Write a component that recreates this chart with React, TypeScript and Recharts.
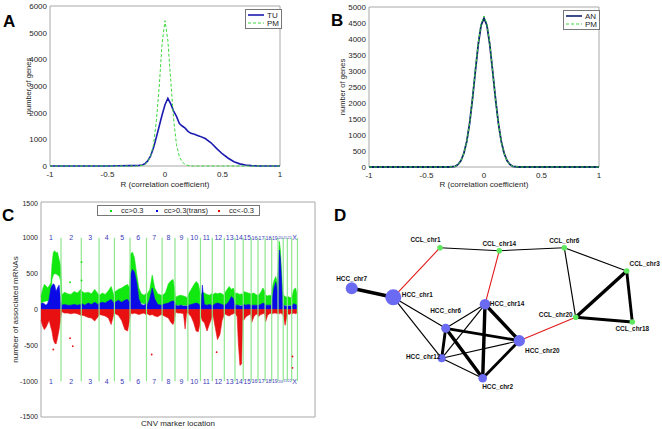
import React from 'react';
import {
  LineChart, Line, XAxis, YAxis, Legend, ReferenceArea, ReferenceLine,
  ComposedChart, Area, Scatter, ScatterChart,
} from 'recharts';

const FONT = '"Liberation Sans", Arial, Helvetica, sans-serif';
const INK = '#262626';
const FRAME = '#a8a8a8';

// ---- A / B: distribution of correlation coefficients
const rGrid = [-1, -0.5, -0.4, -0.3, -0.25, -0.225, -0.2, -0.175, -0.15, -0.125, -0.1, -0.075, -0.05, -0.025, 0,
  0.025, 0.05, 0.075, 0.1, 0.125, 0.15, 0.175, 0.2, 0.225, 0.25, 0.3, 0.35, 0.4, 0.45, 0.5, 0.55, 0.6, 0.65, 0.7,
  0.75, 0.8, 0.85, 0.9, 1];
const tuA = [0, 0, 10, 15, 20, 25, 40, 80, 190, 380, 680, 1080, 1500, 1920, 2300,
  2540, 2330, 2060, 1860, 1590, 1500, 1420, 1300, 1225, 1200, 1120, 1030, 870, 650, 450, 290, 160, 80, 40,
  15, 5, 0, 0, 0];
const pmA = [0, 0, 0, 0, 0, 5, 20, 60, 160, 380, 800, 1700, 3000, 4600, 5450,
  4700, 3200, 1750, 800, 350, 150, 60, 20, 5, 0, 0, 0, 0, 0, 0, 0, 0, 0, 0,
  0, 0, 0, 0, 0];
const anB = [0, 0, 0, 0, 20, 80, 200, 430, 800, 1370, 2130, 3000, 3830, 4430, 4650,
  4430, 3830, 3000, 2130, 1370, 800, 430, 200, 80, 20, 0, 0, 0, 0, 0, 0, 0, 0, 0,
  0, 0, 0, 0, 0];
const pmB = [0, 0, 0, 0, 15, 70, 190, 420, 790, 1360, 2140, 3040, 3880, 4490, 4720,
  4480, 3860, 3010, 2120, 1350, 790, 420, 190, 75, 20, 0, 0, 0, 0, 0, 0, 0, 0, 0,
  0, 0, 0, 0, 0];
const rTicks = [-1, -0.5, 0, 0.5, 1];
const yTicksA = [0, 1000, 2000, 3000, 4000, 5000, 6000];
const yTicksB = [0, 500, 1000, 1500, 2000, 2500, 3000, 3500, 4000, 4500, 5000];

// ---- C: associated mRNAs per CNV marker
const chrNames = ['1', '2', '3', '4', '5', '6', '7', '8', '9', '10', '11', '12', '13', '14', '15', '16', '17', '18', '19', '20', '21', '22', 'X'];
const chrEnds = [73, 147, 212, 268, 325, 385, 442, 489, 536, 582, 625, 669, 708, 738, 767, 792, 818, 842, 865, 884, 899, 915, 936];
const markerPos = [
  0, 6, 12, 18, 24, 30, 36, 40, 45, 50, 55, 60, 66, 72, // 1
  76, 85, 97, 109, 121, 133, 145, // 2
  150, 160, 172, 184, 196, 208, // 3
  214, 224, 234, 246, 256, 266, // 4
  271, 282, 294, 306, 316, 323, // 5
  328, 334, 341, 349, 357, 366, 376, 383, // 6
  388, 397, 406, 415, 426, 439, // 7
  445, 455, 465, 474, 482, 487, // 8
  491, 500, 510, 520, 526, 531, 534, // 9
  539, 548, 557, 566, 574, 580, // 10
  585, 589, 596, 606, 615, 623, // 11
  628, 636, 644, 653, 661, 667, // 12
  671, 679, 687, 695, 702, 706, // 13
  710, 716, 720, 726, 732, 736, // 14
  740, 748, 757, 765, // 15
  769, 777, 784, 790, // 16
  794, 802, 810, 816, // 17
  820, 827, 834, 840, // 18
  844, 850, 857, 863, // 19
  867, 870, 874, 878, 882, // 20
  886, 891, 897, // 21
  901, 907, 913, // 22
  917, 923, 929, 934, // X
];
const cisHigh = [
  180, 280, 350, 330, 300, 330, 370, 620, 800, 820, 790, 800, 700, 600,
  200, 240, 220, 210, 250, 230, 280,
  250, 230, 240, 220, 280, 220,
  200, 230, 210, 260, 320, 200,
  250, 280, 300, 330, 350, 300,
  780, 800, 720, 500, 300, 220, 200, 220,
  220, 280, 480, 300, 220, 200,
  200, 240, 360, 400, 420, 300,
  170, 190, 200, 190, 180, 170, 160,
  220, 280, 340, 390, 360, 250,
  220, 240, 230, 210, 200, 220,
  210, 230, 220, 230, 220, 200,
  230, 280, 320, 280, 300, 250,
  220, 230, 220, 210, 220, 200,
  250, 240, 230, 220,
  220, 230, 210, 200,
  200, 240, 300, 260,
  200, 190, 200, 190,
  300, 400, 460, 350,
  700, 950, 820, 500, 250,
  200, 180, 170,
  180, 170, 160,
  200, 280, 300, 220,
];
const cisLow = [
  90, 100, 110, 120, 120, 140, 200, 420, 480, 500, 500, 480, 470, 400,
  60, 60, 60, 60, 60, 60, 60,
  60, 60, 60, 60, 60, 60,
  60, 60, 60, 60, 60, 60,
  60, 60, 60, 60, 60, 60,
  250, 300, 350, 250, 120, 90, 80, 80,
  60, 60, 60, 60, 60, 60,
  60, 60, 60, 60, 60, 60,
  60, 60, 60, 60, 60, 60, 60,
  60, 60, 60, 60, 60, 60,
  60, 60, 60, 60, 60, 60,
  60, 60, 60, 60, 60, 60,
  60, 60, 60, 60, 60, 60,
  60, 60, 60, 60, 60, 60,
  60, 60, 60, 60,
  60, 60, 60, 60,
  60, 60, 60, 60,
  60, 60, 60, 60,
  60, 80, 80, 60,
  100, 200, 200, 100, 60,
  60, 60, 60,
  60, 60, 60,
  60, 60, 60, 60,
];
const transHigh = [
  80, 90, 80, 60, 80, 150, 300, 330, 360, 340, 250, 300, 340, 120,
  60, 70, 60, 60, 70, 60, 70,
  80, 60, 90, 70, 100, 70,
  90, 100, 90, 120, 140, 90,
  100, 130, 100, 130, 140, 90,
  500, 560, 520, 380, 150, 70, 60, 80,
  60, 150, 300, 150, 70, 60,
  70, 80, 90, 110, 120, 110,
  60, 50, 60, 50, 50, 50, 50,
  60, 70, 80, 90, 80, 60,
  60, 340, 70, 60, 70, 60,
  60, 80, 90, 80, 70, 60,
  60, 80, 120, 180, 150, 90,
  60, 60, 60, 50, 50, 60,
  70, 60, 70, 60,
  60, 60, 60, 60,
  60, 70, 90, 80,
  60, 60, 60, 60,
  150, 300, 380, 250,
  600, 830, 700, 400, 100,
  60, 50, 50,
  50, 50, 50,
  60, 80, 70, 60,
];
const negLow = [
  -150, -230, -280, -250, -200, -150, -250, -300, -420, -470, -480, -400, -280, -120,
  -30, -50, -50, -60, -50, -60, -80,
  -80, -90, -110, -120, -160, -100,
  -70, -80, -90, -120, -210, -60,
  -60, -80, -150, -280, -300, -150,
  -50, -60, -50, -60, -70, -60, -50, -70,
  -60, -80, -70, -90, -100, -70,
  -80, -100, -120, -180, -210, -150,
  -40, -50, -50, -60, -270, -60, -50,
  -60, -100, -180, -300, -310, -200,
  -100, -160, -180, -300, -200, -120,
  -80, -250, -420, -350, -150, -90,
  -60, -80, -90, -70, -60, -50,
  -60, -100, -450, -780, -760, -150,
  -150, -100, -80, -60,
  -180, -100, -70, -60,
  -100, -70, -60, -50,
  -170, -80, -60, -50,
  -60, -50, -50, -60,
  -50, -60, -50, -60, -60,
  -120, -220, -100,
  -60, -70, -50,
  -60, -50, -60, -50,
];
const negOutPos = [45, 106, 116, 404, 641, 918, 918];
const negOutVal = [-558, -400, -512, -628, -595, -656, -814];
const cisOutPos = [148, 148, 106];
const cisOutVal = [660, 405, 380];
const yTicksC = [-1500, -1000, -500, 0, 500, 1000, 1500];

// ---- D: chromosome co-association network
const nodeNames = ['CCL_chr1', 'CCL_chr14', 'CCL_chr6', 'CCL_chr3', 'CCL_chr20', 'CCL_chr18',
  'HCC_chr7', 'HCC_chr1', 'HCC_chr14', 'HCC_chr6', 'HCC_chr20', 'HCC_chr12', 'HCC_chr2'];
const nodeX = [110, 169.3, 234.3, 296.7, 245.7, 302.3, 21.7, 63.3, 155, 115.7, 189.3, 111.7, 152.7];
const nodeY = [47.7, 50.7, 47.7, 71, 117.3, 122, 88.3, 97.3, 104.3, 128.3, 140.7, 158.3, 178.3];
const edgeFrom = ['CCL_chr1', 'CCL_chr14', 'CCL_chr6', 'CCL_chr6', 'CCL_chr3', 'CCL_chr3', 'CCL_chr20',
  'CCL_chr1', 'CCL_chr14', 'CCL_chr20', 'HCC_chr7', 'HCC_chr1', 'HCC_chr1', 'HCC_chr6', 'HCC_chr6',
  'HCC_chr6', 'HCC_chr6', 'HCC_chr14', 'HCC_chr14', 'HCC_chr14', 'HCC_chr12', 'HCC_chr12', 'HCC_chr2'];
const edgeTo = ['CCL_chr14', 'CCL_chr6', 'CCL_chr3', 'CCL_chr20', 'CCL_chr20', 'CCL_chr18', 'CCL_chr18',
  'HCC_chr1', 'HCC_chr14', 'HCC_chr20', 'HCC_chr1', 'HCC_chr6', 'HCC_chr12', 'HCC_chr14', 'HCC_chr20',
  'HCC_chr12', 'HCC_chr2', 'HCC_chr12', 'HCC_chr2', 'HCC_chr20', 'HCC_chr20', 'HCC_chr2', 'HCC_chr20'];
const edgeWeight = [1, 1, 1, 1, 3, 2.5, 2.5, 1, 1, 1, 3, 1, 1, 1, 2.5, 2.5, 3, 1, 3, 3, 1, 1, 2.5];

// node drawing styles (radius, label offset)
const NODE_R: Record<string, number> = {
  HCC_chr1: 8, HCC_chr7: 6, HCC_chr14: 5.3, HCC_chr20: 5.7, HCC_chr6: 4.5, HCC_chr12: 4, HCC_chr2: 4.3,
};
const LABEL_OFF: Record<string, [number, number]> = {
  CCL_chr1: [-14.5, -7.7], CCL_chr14: [0, -7.4], CCL_chr6: [0, -6.7], CCL_chr3: [18, -7.7],
  CCL_chr20: [-20, -3], CCL_chr18: [0, 6.3], HCC_chr7: [0, -9.3], HCC_chr1: [24, -3],
  HCC_chr14: [22, -1], HCC_chr6: [0, -18], HCC_chr20: [23, 10], HCC_chr12: [-18.5, -1.6], HCC_chr2: [15, 8.4],
};

const tickStyle = { fontSize: 8, fill: INK, fontFamily: FONT };

type LegendItem = { label: string; color: string; dash?: string; width: number };

const LineLegend = ({ items }: { items: LegendItem[] }) => (
  <div style={{ border: '1px solid #777', background: '#fff', padding: '1px 2px 1px 2px', fontFamily: FONT, fontSize: 8, color: INK }}>
    {items.map((it) => (
      <div key={it.label} style={{ display: 'flex', alignItems: 'center', height: 8 }}>
        <svg width={16} height={4}>
          <line x1={0} y1={2} x2={16} y2={2} stroke={it.color} strokeWidth={it.width} strokeDasharray={it.dash} />
        </svg>
        <span style={{ marginLeft: 3 }}>{it.label}</span>
      </div>
    ))}
  </div>
);

function PanelA() {
  const data = rGrid.map((r, i) => ({ r, tu: tuA[i], pm: pmA[i] }));
  const items: LegendItem[] = [
    { label: 'TU', color: '#1b1bb0', width: 1.6 },
    { label: 'PM', color: '#3cd83c', dash: '3 2', width: 1 },
  ];
  return (
    <div style={{ position: 'absolute', left: 0, top: 0 }}>
      <LineChart width={300} height={200} data={data} margin={{ top: 6, right: 20, left: 0, bottom: 0 }}>
        <XAxis dataKey="r" type="number" domain={[-1, 1]} ticks={rTicks} height={34} tickLine={false} axisLine={false}
          tickSize={0} tickMargin={5} tick={tickStyle}
          label={{ value: 'R (correlation coefficient)', position: 'insideBottom', offset: 13, fontSize: 8, fill: INK, fontFamily: FONT }} />
        <YAxis type="number" domain={[0, 6000]} ticks={yTicksA} width={50} tickLine={false} axisLine={false}
          tickSize={0} tickMargin={3} tick={tickStyle}
          label={{ value: 'number of genes', angle: -90, position: 'center', dx: 3, fontSize: 7.5, fill: INK, fontFamily: FONT }} />
        <ReferenceArea x1={-1} x2={1} y1={0} y2={6000} fill="none" stroke={FRAME} strokeWidth={1} />
        <Line dataKey="tu" stroke="#1b1bb0" strokeWidth={1.6} dot={false} isAnimationActive={false} />
        <Line dataKey="pm" stroke="#3cd83c" strokeWidth={1} strokeDasharray="3 2" dot={false} isAnimationActive={false} />
        <Legend layout="vertical" align="center" verticalAlign="middle"
          wrapperStyle={{ left: 245, top: 9, width: 'auto' }} content={() => <LineLegend items={items} />} />
      </LineChart>
    </div>
  );
}

function PanelB() {
  const data = rGrid.map((r, i) => ({ r, an: anB[i], pm: pmB[i] }));
  const items: LegendItem[] = [
    { label: 'AN', color: '#0d1f6b', width: 1.6 },
    { label: 'PM', color: '#3cd83c', dash: '3 2', width: 1 },
  ];
  return (
    <div style={{ position: 'absolute', left: 330, top: 0 }}>
      <LineChart width={290} height={200} data={data} margin={{ top: 7, right: 21, left: 0, bottom: 0 }}>
        <XAxis dataKey="r" type="number" domain={[-1, 1]} ticks={rTicks} height={33} tickLine={false} axisLine={false}
          tickSize={0} tickMargin={5} tick={tickStyle}
          label={{ value: 'R (correlation coefficient)', position: 'insideBottom', offset: 13, fontSize: 8, fill: INK, fontFamily: FONT }} />
        <YAxis type="number" domain={[0, 5000]} ticks={yTicksB} width={39} tickLine={false} axisLine={false}
          tickSize={0} tickMargin={3} tick={tickStyle}
          label={{ value: 'number of genes', angle: -90, position: 'center', dx: -7.5, fontSize: 7.5, fill: INK, fontFamily: FONT }} />
        <ReferenceArea x1={-1} x2={1} y1={0} y2={5000} fill="none" stroke={FRAME} strokeWidth={1} />
        <Line dataKey="an" stroke="#0d1f6b" strokeWidth={1.8} dot={false} isAnimationActive={false} />
        <Line dataKey="pm" stroke="#3cd83c" strokeWidth={1} strokeDasharray="3 2" dot={false} isAnimationActive={false} />
        <Legend layout="vertical" align="center" verticalAlign="middle"
          wrapperStyle={{ left: 233, top: 10, width: 'auto' }} content={() => <LineLegend items={items} />} />
      </LineChart>
    </div>
  );
}

const DotLegend = () => {
  const items = [
    { label: 'cc>0.3', color: '#00e000', dot: 13, text: 23 },
    { label: 'cc>0.3(trans)', color: '#0000e0', dot: 58.5, text: 66 },
    { label: 'cc<-0.3', color: '#e00000', dot: 121, text: 131 },
  ];
  return (
    <div style={{ position: 'relative', width: 163, height: 11, border: '1px solid #777', background: '#fff', boxSizing: 'border-box', fontFamily: FONT, fontSize: 7.5, color: INK }}>
      {items.map((it) => (
        <React.Fragment key={it.label}>
          <span style={{ position: 'absolute', left: it.dot - 1, top: 4, width: 2, height: 2, background: it.color }} />
          <span style={{ position: 'absolute', left: it.text, top: 0, lineHeight: '9px' }}>{it.label}</span>
        </React.Fragment>
      ))}
    </div>
  );
};

const C_PLOT_W = 274; // plot width in px for the 0..1000 marker axis

function PanelC() {
  const data = markerPos.map((m, i) => ({
    m,
    cis: [cisLow[i], cisHigh[i]],
    trans: [0, transHigh[i]],
    neg: [negLow[i], 0],
  }));
  const chrLabels = chrNames.flatMap((name, i) => {
    const start = i === 0 ? 0 : chrEnds[i - 1];
    const mid = (start + chrEnds[i]) / 2;
    const span = ((chrEnds[i] - start) / 1000) * C_PLOT_W;
    return [{ m: mid, v: 1000, name, span }, { m: mid, v: -1000, name, span }];
  });
  const negOut = negOutPos.map((m, i) => ({ m, v: negOutVal[i] }));
  const cisOut = cisOutPos.map((m, i) => ({ m, v: cisOutVal[i] }));
  return (
    <div style={{ position: 'absolute', left: 0, top: 200 }}>
      <ComposedChart width={330} height={229} data={data} margin={{ top: 2, right: 15, left: 0, bottom: 0 }}>
        <XAxis dataKey="m" type="number" domain={[0, 1000]} height={12} tick={false} tickLine={false} axisLine={false}
          label={{ value: 'CNV marker location', position: 'insideBottom', offset: 3, fontSize: 8, fill: INK, fontFamily: FONT }} />
        <YAxis type="number" domain={[-1500, 1500]} ticks={yTicksC} width={41} tickLine={false} axisLine={false}
          tickSize={0} tickMargin={3} tick={{ ...tickStyle, fontSize: 7 }}
          label={{ value: 'number of associated mRNAs', angle: -90, position: 'center', dx: -5.5, fontSize: 8, fill: INK, fontFamily: FONT }} />
        <ReferenceArea x1={0} x2={1000} y1={-1500} y2={1500} fill="none" stroke={FRAME} strokeWidth={1} />
        <Area dataKey="cis" type="linear" stroke="#10e810" strokeWidth={0.6} fill="#10e810" fillOpacity={1} isAnimationActive={false} />
        <Area dataKey="trans" type="linear" stroke="#0a0ae6" strokeWidth={0.6} fill="#0a0ae6" fillOpacity={1} isAnimationActive={false} />
        <Area dataKey="neg" type="linear" stroke="#e81010" strokeWidth={0.6} fill="#e81010" fillOpacity={1} isAnimationActive={false} />
        <Scatter data={negOut} dataKey="v" fill="#e81010" isAnimationActive={false}
          shape={(p: any) => <circle cx={p.cx} cy={p.cy} r={0.9} fill="#e81010" />} />
        <Scatter data={cisOut} dataKey="v" fill="#10e810" isAnimationActive={false}
          shape={(p: any) => <circle cx={p.cx} cy={p.cy} r={0.9} fill="#10e810" />} />
        {chrEnds.map((e) => (
          <ReferenceLine key={e} segment={[{ x: e, y: 1000 }, { x: e, y: -1000 }]} stroke="#8ee68e" strokeWidth={1.2} />
        ))}
        <Scatter data={chrLabels} dataKey="v" isAnimationActive={false}
          shape={(p: any) => {
            const name = p.payload.name as string;
            // shrink labels of narrow chromosomes so that they fit between the boundary lines
            const size = Math.min(7, (p.payload.span - 0.4) / (name.length * 0.58));
            return (
              <text x={p.cx} y={p.cy} dy={size * 0.36} textAnchor="middle" fontSize={size} fill="#3a3ab8" fontFamily={FONT}>{name}</text>
            );
          }} />
        <Legend layout="vertical" align="center" verticalAlign="middle"
          wrapperStyle={{ left: 97, top: 5, width: 'auto' }} content={() => <DotLegend />} />
      </ComposedChart>
    </div>
  );
}

function PanelD() {
  const nodes = nodeNames.map((name, i) => ({ name, x: nodeX[i], y: nodeY[i] }));
  const byName = Object.fromEntries(nodes.map((n) => [n.name, n]));
  const edges = edgeFrom.map((f, i) => {
    const a = byName[f];
    const b = byName[edgeTo[i]];
    const cross = f.slice(0, 3) !== edgeTo[i].slice(0, 3);
    return { key: `${f}-${edgeTo[i]}`, pts: [{ x: a.x, y: a.y }, { x: b.x, y: b.y }], w: edgeWeight[i], cross };
  });
  return (
    <div style={{ position: 'absolute', left: 330, top: 200 }}>
      <ScatterChart width={332} height={229} margin={{ top: 0, right: 0, left: 0, bottom: 0 }}>
        <XAxis dataKey="x" type="number" domain={[0, 332]} hide />
        <YAxis dataKey="y" type="number" domain={[0, 229]} reversed hide />
        {edges.map((e) => (
          <Scatter key={e.key} data={e.pts} isAnimationActive={false}
            line={{ stroke: e.cross ? '#e21b1b' : '#000', strokeWidth: e.cross ? 1.1 : e.w * 1.15 }}
            shape={() => <g />} />
        ))}
        <Scatter data={nodes} isAnimationActive={false}
          shape={(p: any) => {
            const name = p.payload.name as string;
            const hcc = name.startsWith('HCC');
            const r = hcc ? NODE_R[name] : 2.8;
            const [dx, dy] = LABEL_OFF[name];
            return (
              <g>
                <circle cx={p.cx} cy={p.cy} r={r} fill={hcc ? '#6a6af2' : '#5fe85f'} />
                <text x={p.cx + dx} y={p.cy + dy} dy={2.2} textAnchor="middle" fontSize={6.4} fontWeight="bold"
                  fill="#111" fontFamily={FONT}>{name}</text>
              </g>
            );
          }} />
      </ScatterChart>
    </div>
  );
}

export default function App() {
  return (
    <div style={{ position: 'absolute', left: 0, top: 0, width: 662, height: 429, background: '#fff', fontFamily: FONT, overflow: 'hidden' }}>
      <PanelA />
      <PanelB />
      <PanelC />
      <PanelD />
      <svg width={662} height={429} style={{ position: 'absolute', left: 0, top: 0, pointerEvents: 'none' }}>
        <g fontFamily={FONT} fontWeight="bold" fontSize={17} fill="#000">
          <text x={3} y={27}>A</text>
          <text x={331} y={26}>B</text>
          <text x={2} y={221}>C</text>
          <text x={334} y={221}>D</text>
        </g>
      </svg>
    </div>
  );
}
